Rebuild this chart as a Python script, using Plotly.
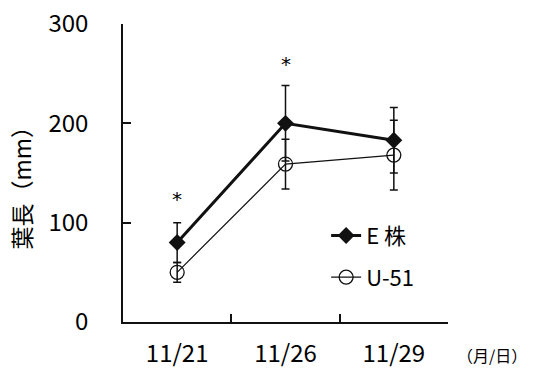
import plotly.graph_objects as go

dates = ["11/21", "11/26", "11/29"]
e_vals = [80, 200, 183]
e_err = [20, 38, 33]
u_vals = [50, 159, 168]
u_err = [10, 25, 35]
sig_y = [124, 260, None]   # positions of significance marks
y_ticks = [0, 100, 200, 300]

FONT = "Noto Sans CJK JP"
INK = "#111111"

fig = go.Figure()
fig.add_trace(go.Scatter(
    x=dates, y=e_vals, name="E 株", mode="lines+markers",
    line=dict(color=INK, width=3),
    marker=dict(symbol="diamond", size=13, color=INK),
    error_y=dict(type="data", array=e_err, visible=True, color=INK, thickness=1.5, width=4),
    legendgroup="e",
))
fig.add_trace(go.Scatter(
    x=dates, y=u_vals, name="U-51", mode="lines+markers",
    line=dict(color=INK, width=1.2),
    marker=dict(symbol="circle-open", size=14, color=INK, line=dict(width=1.3)),
    error_y=dict(type="data", array=u_err, visible=True, color=INK, thickness=1.5, width=4),
    legendgroup="u",
))

for d, s in zip(dates, sig_y):
    if s is not None:
        fig.add_annotation(x=d, y=s, text="*", showarrow=False,
                           font=dict(family="DejaVu Sans", size=20, color="black"))

fig.add_annotation(xref="paper", yref="paper", x=-0.315, y=0.47, text="葉長（mm）",
                   textangle=-90, showarrow=False, xanchor="center", yanchor="middle",
                   font=dict(family=FONT, size=23, color="black"))
fig.add_annotation(xref="paper", yref="paper", x=1.25, y=-0.112, text="（月/日）",
                   showarrow=False, xanchor="right", yanchor="middle",
                   font=dict(family=FONT, size=16, color="black"))

fig.update_layout(
    width=533, height=370,
    margin=dict(l=123, r=85, t=24, b=48, autoexpand=False),
    paper_bgcolor="white", plot_bgcolor="white",
    font=dict(family=FONT, color=INK),
    showlegend=True,
    legend=dict(x=0.625, y=0.36, xanchor="left", yanchor="top",
                font=dict(family=FONT, size=22, color="black"),
                tracegroupgap=10, bgcolor="rgba(0,0,0,0)"),
    xaxis=dict(type="category", range=[-0.5, 2.5], showgrid=False, zeroline=False,
               showline=True, linecolor=INK, linewidth=1.5, automargin=False,
               ticks="inside", ticklen=8, tickwidth=1.5, tickcolor=INK,
               tickson="boundaries", tickfont=dict(family=FONT, size=24, color="black"),
               ticklabelstandoff=9),
    yaxis=dict(range=[0, 300], tickvals=y_ticks, showgrid=False, zeroline=False,
               showline=True, linecolor=INK, linewidth=1.5, automargin=False,
               ticks="inside", ticklen=8, tickwidth=1.5, tickcolor=INK,
               tickfont=dict(family=FONT, size=24, color="black"),
               ticklabelstandoff=28),
)

fig.write_html("out.html")
